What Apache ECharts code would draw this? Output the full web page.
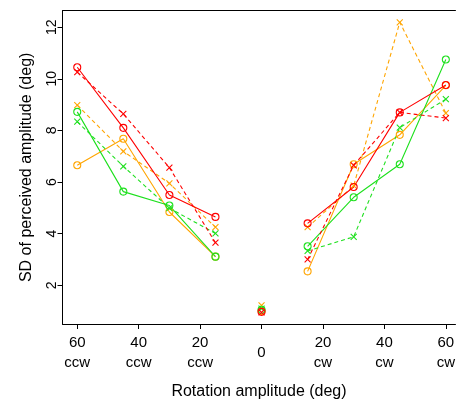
<!DOCTYPE html>
<html>
<head>
    <meta charset="utf-8">
    <script src="https://cdn.jsdelivr.net/npm/echarts@6/dist/echarts.min.js"></script>
</head>
<body style="margin:0">
<div id="main" style="width:458px;height:405px;"></div>
<script type="text/javascript">
    // rotation amplitudes (deg, ccw negative)
    var xLeft = [-60, -45, -30, -15];
    var xCenter = 0;
    var xRight = [15, 30, 45, 60];

    var xTicks = [-60, -40, -20, 0, 20, 40, 60];
    var yTicks = [2, 4, 6, 8, 10, 12];

    // SD of perceived amplitude
    var redSolidLeft = [10.45, 8.10, 5.50, 4.65];
    var redSolidCenter = 0.97;
    var redSolidRight = [4.40, 5.81, 8.70, 9.76];

    var redDashLeft = [10.26, 8.64, 6.56, 3.65];
    var redDashCenter = 0.95;
    var redDashRight = [3.00, 6.65, 8.70, 8.48];

    var orangeSolidLeft = [6.65, 7.68, 4.84, 3.11];
    var orangeSolidCenter = 1.0;
    var orangeSolidRight = [2.54, 6.69, 7.83, 9.75];

    var orangeDashLeft = [8.98, 7.19, 5.95, 4.25];
    var orangeDashCenter = 1.22;
    var orangeDashRight = [4.25, 5.86, 12.19, 8.67];

    var greenSolidLeft = [8.72, 5.63, 5.09, 3.11];
    var greenSolidCenter = 1.05;
    var greenSolidRight = [3.51, 5.41, 6.69, 10.75];

    var greenDashLeft = [8.34, 6.61, 4.99, 4.01];
    var greenDashCenter = 1.1;
    var greenDashRight = [3.33, 3.88, 8.11, 9.21];

    var RED = '#ff0000', ORANGE = '#ffa500', GREEN = '#1ee01e';
    var CROSS = 'path://M0,0L10,10M10,0L0,10';

    // left part, lone centre point, right part; '-' breaks the line
    function build(left, center, right) {
        var d = [];
        for (var i = 0; i < xLeft.length; i++) d.push([xLeft[i], left[i]]);
        d.push([xCenter, '-']);
        d.push([xCenter, center]);
        d.push([xCenter, '-']);
        for (var j = 0; j < xRight.length; j++) d.push([xRight[j], right[j]]);
        return d;
    }

    function series(name, color, dashed, left, center, right) {
        return {
            name: name,
            type: 'line',
            xAxisIndex: 0,
            data: build(left, center, right),
            connectNulls: false,
            symbol: dashed ? CROSS : 'circle',
            symbolSize: dashed ? 6 : 7,
            showAllSymbol: true,
            itemStyle: {color: 'rgba(0,0,0,0)', borderColor: color, borderWidth: 1.1},
            lineStyle: {color: color, width: 1.1, type: dashed ? [4, 3] : 'solid'},
            emphasis: {disabled: true},
            z: 2
        };
    }

    var myChart = echarts.init(document.getElementById('main'), null, {renderer: 'canvas'});

    // the plot box is cut off at the right edge of the picture, so no right border:
    // box drawn from bottom, left and a top axis line
    myChart.setOption({
        animation: false,
        textStyle: {fontFamily: 'Liberation Sans'},
        grid: {left: 62.5, right: 0, top: 10.7, bottom: 78},
        xAxis: [{
            type: 'value',
            min: -64.8, max: 63.14,
            name: 'Rotation amplitude (deg)',
            nameLocation: 'middle',
            nameGap: 60,
            nameTextStyle: {fontSize: 16, color: '#000'},
            axisLine: {show: true, onZero: false, lineStyle: {color: '#000', width: 1}},
            splitLine: {show: false},
            axisTick: {show: true, length: 5, customValues: xTicks, lineStyle: {color: '#000'}},
            axisLabel: {
                customValues: xTicks,
                margin: 9,
                color: '#000',
                fontSize: 15,
                lineHeight: 20,
                formatter: function (v) {
                    if (v === 0) return '{z|0}';
                    return Math.abs(v) + '\n' + (v < 0 ? 'ccw' : 'cw');
                },
                rich: {z: {fontSize: 15, lineHeight: 40, color: '#000'}}
            }
        }, {
            type: 'value',
            position: 'top',
            min: -64.8, max: 63.14,
            axisLine: {show: true, onZero: false, lineStyle: {color: '#000', width: 1}},
            axisTick: {show: false},
            axisLabel: {show: false},
            splitLine: {show: false}
        }],
        yAxis: {
            type: 'value',
            min: 0.5, max: 12.64,
            name: 'SD of perceived amplitude (deg)',
            nameLocation: 'middle',
            nameGap: 28,
            nameTextStyle: {fontSize: 16, color: '#000'},
            axisLine: {show: true, onZero: false, lineStyle: {color: '#000', width: 1}},
            splitLine: {show: false},
            axisTick: {show: true, length: 5, customValues: yTicks, lineStyle: {color: '#000'}},
            axisLabel: {
                customValues: yTicks,
                rotate: 90,
                margin: 3,
                color: '#000',
                fontSize: 14
            }
        },
        series: [
            series('orange solid', ORANGE, false, orangeSolidLeft, orangeSolidCenter, orangeSolidRight),
            series('orange dashed', ORANGE, true, orangeDashLeft, orangeDashCenter, orangeDashRight),
            series('green solid', GREEN, false, greenSolidLeft, greenSolidCenter, greenSolidRight),
            series('green dashed', GREEN, true, greenDashLeft, greenDashCenter, greenDashRight),
            series('red solid', RED, false, redSolidLeft, redSolidCenter, redSolidRight),
            series('red dashed', RED, true, redDashLeft, redDashCenter, redDashRight)
        ]
    });
</script>
</body>
</html>
